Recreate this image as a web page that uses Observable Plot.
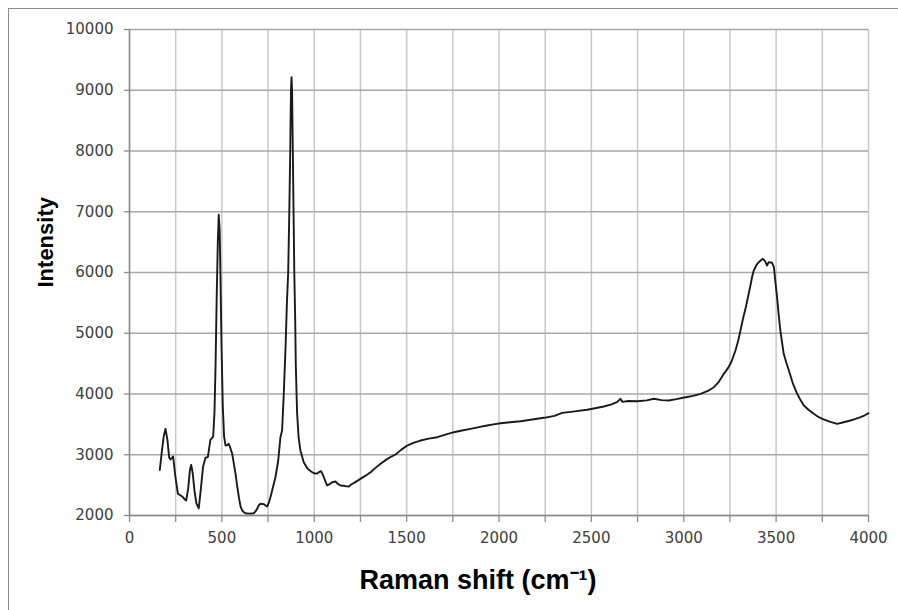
<!DOCTYPE html>
<html>
<head>
<meta charset="utf-8">
<script src="https://cdn.jsdelivr.net/npm/d3@7"></script>
<script src="https://cdn.jsdelivr.net/npm/@observablehq/plot@0.6"></script>
<style>
  html, body { margin: 0; padding: 0; background: #fff; overflow: hidden; }
  #wrap { position: relative; width: 898px; height: 610px; }
  #border { position: absolute; left: 8px; top: 8px; width: 1000px; height: 1000px;
            border-top: 1.5px solid #8c8c8c; border-left: 1.5px solid #8c8c8c; pointer-events: none; }
  #chart { position: absolute; left: 0; top: 0; }
</style>
</head>
<body>
<div id="wrap"><div id="chart"></div><div id="border"></div></div>
<script>
// Raman shift (cm-1)
const ramanShift = [
  164,175,185,195,205,215,222,236,248,262,285,300,307,318,327,334,342,352,362,375,
  385,398,411,424,438,453,460,466,472,478,483,488,493,498,505,512,520,530,537,545,
  556,565,574,583,592,601,610,620,628,650,673,683,691,700,709,718,727,735,745,755,
  763,775,790,805,817,826,835,845,852,859,865,870,874,877,880,884,888,892,897,900,
  907,915,925,943,960,971,985,998,1015,1025,1037,1045,1052,1062,1070,1085,1097,1115,1128,1142,
  1160,1175,1187,1200,1220,1250,1280,1305,1330,1359,1390,1420,1440,1470,1503,1540,1575,1620,1666,1710,
  1756,1800,1846,1890,1936,1970,2008,2060,2117,2180,2243,2300,2342,2400,2477,2520,2567,2610,2640,2658,
  2668,2700,2748,2800,2838,2880,2919,2960,3010,3050,3091,3130,3163,3190,3217,3240,3257,3280,3295,3307,
  3320,3334,3348,3361,3370,3379,3393,3406,3418,3428,3439,3451,3460,3470,3478,3488,3496,3505,3514,3523,
  3532,3541,3555,3569,3590,3614,3632,3650,3675,3704,3725,3750,3790,3830,3865,3902,3930,3957,3980,4000
];
// Intensity
const intensity = [
  2750,3050,3300,3427,3250,2950,2922,2971,2650,2357,2313,2260,2247,2450,2750,2834,2700,2400,2200,2120,
  2400,2800,2950,2960,3246,3300,3700,4500,5600,6500,6950,6700,5800,4800,3800,3300,3152,3160,3180,3120,
  3015,2850,2686,2480,2301,2150,2082,2050,2038,2030,2038,2070,2110,2170,2193,2190,2187,2170,2148,2220,
  2301,2450,2630,2905,3289,3400,4000,4800,5500,6000,7000,8000,9000,9214,9000,8000,7000,6000,5200,4500,
  3700,3300,3070,2877,2790,2752,2720,2696,2690,2713,2730,2680,2630,2550,2494,2520,2548,2560,2520,2494,
  2490,2480,2477,2510,2545,2603,2660,2713,2780,2851,2920,2975,3004,3080,3152,3200,3234,3265,3289,3330,
  3371,3400,3427,3455,3481,3500,3519,3535,3552,3580,3608,3640,3690,3710,3740,3765,3794,3830,3870,3921,
  3870,3885,3881,3895,3921,3900,3893,3915,3947,3970,4003,4050,4112,4200,4332,4430,4523,4716,4880,5045,
  5230,5402,5600,5786,5930,6033,6120,6170,6200,6225,6190,6115,6170,6165,6160,6088,5850,5594,5300,5045,
  4850,4661,4520,4386,4180,4003,3900,3811,3740,3674,3630,3592,3545,3509,3535,3564,3590,3618,3650,3684
];
const xGridTicks = d3.range(0, 4001, 250);
const xLabelTicks = [0, 500, 1000, 1500, 2000, 2500, 3000, 3500, 4000];
const yTicks = [2000, 3000, 4000, 5000, 6000, 7000, 8000, 9000, 10000];
const xTitle = "Raman shift (cm⁻¹)";
const yTitle = "Intensity";

const spectrum = ramanShift.map((x, i) => ({x, y: intensity[i]}));

const chart = Plot.plot({
  width: 898,
  height: 610,
  marginLeft: 129,
  marginRight: 30,
  marginTop: 29,
  marginBottom: 95,
  style: {fontFamily: "'DejaVu Sans', sans-serif", fontSize: "15px", background: "transparent"},
  x: {domain: [0, 4000]},
  y: {domain: [2000, 10000]},
  marks: [
    Plot.gridX(xGridTicks, {stroke: "#c8c8c8", strokeOpacity: 1, strokeWidth: 1.5}),
    Plot.gridY(yTicks, {stroke: "#a8a8a8", strokeOpacity: 1, strokeWidth: 1.5}),
    Plot.axisX(xGridTicks, {
      tickSize: 7, tickPadding: 10, stroke: "#8c8c8c", strokeWidth: 1.3,
      tickFormat: d => xLabelTicks.includes(d) ? String(d) : "", label: null, fill: "#404040"
    }),
    Plot.axisY(yTicks, {
      tickSize: 5, tickPadding: 11, stroke: "#8c8c8c", strokeWidth: 1.3,
      tickFormat: d => String(d), label: null, fill: "#404040"
    }),
    Plot.ruleX([0], {stroke: "#8c8c8c", strokeWidth: 1.5}),
    Plot.ruleY([2000], {stroke: "#8c8c8c", strokeWidth: 1.5}),
    Plot.line(spectrum, {x: "x", y: "y", stroke: "#1a1a1a", strokeWidth: 1.9}),
    Plot.text([xTitle], {
      frameAnchor: "bottom", lineAnchor: "bottom", dx: -21, dy: 73,
      fontSize: 27, fontWeight: "bold", fontFamily: "'Liberation Sans', Arial, sans-serif", fill: "#000"
    }),
    Plot.text([yTitle], {
      frameAnchor: "left", lineAnchor: "bottom", rotate: -90, dx: -77, dy: 15,
      fontSize: 22, fontWeight: "bold", fontFamily: "'Liberation Sans', Arial, sans-serif", fill: "#000"
    })
  ]
});
document.getElementById("chart").appendChild(chart);
</script>
</body>
</html>
